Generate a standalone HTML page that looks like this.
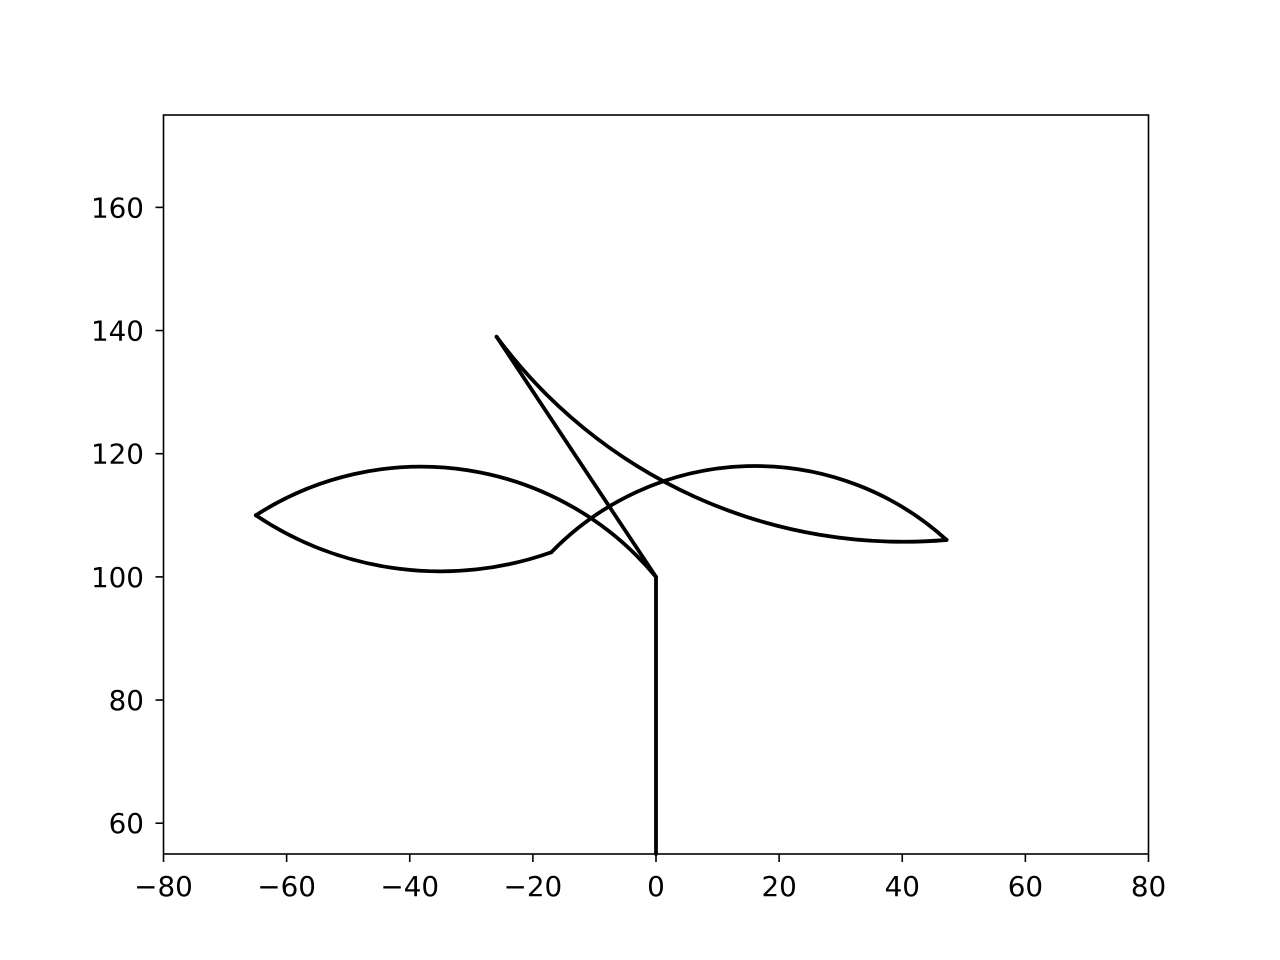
<!DOCTYPE html>
<html><head><meta charset="utf-8"><style>
html,body{margin:0;padding:0;background:#fff;}
svg{display:block;font-family:"DejaVu Sans","Liberation Sans",sans-serif;}
</style></head><body>
<svg id="chart" width="1280" height="960">
<rect width="1280" height="960" fill="#fff"/>
<g id="marks"></g>
<rect x="163.5" y="115" width="985" height="739" fill="none" stroke="#000" stroke-width="1.6"/>
<g id="axes"></g>
</svg>
<script>
const xTicks = [-80,-60,-40,-20,0,20,40,60,80];
const yTicks = [60,80,100,120,140,160];
const stemX = [0,0];
const stemY = [55,100];
// arcs: start, point on arc, end
const leftUpperX = [0,-38.3,-65];
const leftUpperY = [100,117.9,110];
const leftLowerX = [-65,-35,-17];
const leftLowerY = [110,100.9,104];
const rightUpperX = [-17,16.2,47.2];
const rightUpperY = [104,118,106];
const rightLowerX = [47.2,0.7,-25.9];
const rightLowerY = [106,115.8,139];
const diagX = [-25.9,0];
const diagY = [139,100];

const X0=163.5,X1=1148.5,Y0=854,Y1=115;
const sx=v=>X0+(v+80)/160*(X1-X0);
const sy=v=>Y0-(v-55)/120*(Y0-Y1);
const NS="http://www.w3.org/2000/svg";
const marks=document.getElementById('marks');
const axes=document.getElementById('axes');

function arcPath(xs,ys){
  const [ax,bx,cx]=xs.map(sx),[ay,by,cy]=ys.map(sy);
  const d=2*(ax*(by-cy)+bx*(cy-ay)+cx*(ay-by));
  const ux=((ax*ax+ay*ay)*(by-cy)+(bx*bx+by*by)*(cy-ay)+(cx*cx+cy*cy)*(ay-by))/d;
  const uy=((ax*ax+ay*ay)*(cx-bx)+(bx*bx+by*by)*(ax-cx)+(cx*cx+cy*cy)*(bx-ax))/d;
  const r=Math.hypot(ax-ux,ay-uy);
  const cross=(bx-ax)*(cy-ay)-(by-ay)*(cx-ax);
  const sweep=cross>0?1:0;
  const crossC=(cx-ax)*(uy-ay)-(cy-ay)*(ux-ax);
  const crossB=(cx-ax)*(by-ay)-(cy-ay)*(bx-ax);
  const large=(crossC*crossB>0)?1:0;
  return `M${ax},${ay} A${r},${r} 0 ${large} ${sweep} ${cx},${cy}`;
}
function linePath(xs,ys){
  return xs.map((x,i)=>(i?'L':'M')+sx(x)+','+sy(ys[i])).join(' ');
}
function addPath(d,name){
  const el=document.createElementNS(NS,'path');
  el.setAttribute('d',d);
  el.setAttribute('fill','none');el.setAttribute('stroke','#000');
  el.setAttribute('stroke-width','3.8');el.setAttribute('stroke-linejoin','round');el.setAttribute('stroke-linecap','round');
  
  
  marks.appendChild(el);
}
addPath(linePath(stemX,stemY),'stem-line');
addPath(arcPath(leftUpperX,leftUpperY),'left-leaf-upper');
addPath(arcPath(leftLowerX,leftLowerY),'left-leaf-lower');
addPath(arcPath(rightUpperX,rightUpperY),'right-leaf-upper');
addPath(arcPath(rightLowerX,rightLowerY),'right-leaf-lower');
addPath(linePath(diagX,diagY),'diagonal-line');

function mk(tag,attrs){const e=document.createElementNS(NS,tag);for(const k in attrs)e.setAttribute(k,attrs[k]);return e;}
xTicks.forEach(t=>{
  const x=sx(t);
  const l=mk('line',{x1:x,x2:x,y1:Y0,y2:Y0+8,stroke:'#000','stroke-width':1.6});
  
  
  axes.appendChild(l);
  const tx=mk('text',{x:x,y:896,'text-anchor':'middle','font-size':'27.8'});
  tx.textContent=(t<0?'\u2212'+(-t):String(t));
  
  
  axes.appendChild(tx);
});
yTicks.forEach(t=>{
  const y=sy(t);
  const l=mk('line',{x1:X0-8,x2:X0,y1:y,y2:y,stroke:'#000','stroke-width':1.6});
  
  
  axes.appendChild(l);
  const tx=mk('text',{x:144,y:y+10,'text-anchor':'end','font-size':'27.8'});
  tx.textContent=String(t);
  
  
  axes.appendChild(tx);
});
</script>
</body></html>
